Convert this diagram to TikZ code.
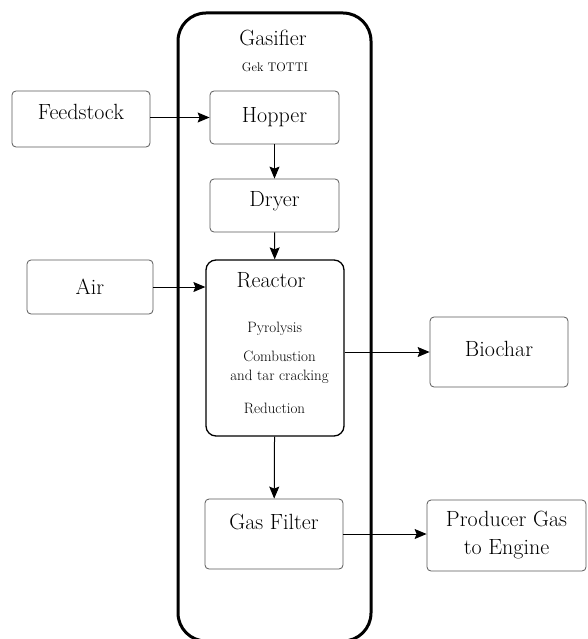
\documentclass[tikz,border=0pt]{standalone}
\usepackage{tikz}
\usetikzlibrary{arrows.meta}

\begin{document}
\begin{tikzpicture}[->,>={Stealth[length=12pt,width=10pt,inset=2pt]}
  ,x=1pt,y=-1pt
  ,line width=1pt
  ,lift/.style={text height=15.3pt,text depth=#1}]
  \tikzstyle{block}=[draw=black!65,line width=0.8pt,rounded corners=4pt
  ,font=\fontsize{22}{28}\selectfont,align=center]
  \tikzstyle{step text}=[font=\fontsize{15}{19}\selectfont,align=center]

  \useasboundingbox (0,0) rectangle (587,639);

  % the gasifier round the inner steps
  \node[draw,line width=3pt,rounded corners=28pt
  ,minimum width=193pt,minimum height=628pt](gasifier) at (274.5,327) {};
  \node[anchor=base,font=\fontsize{22}{26}\selectfont](gtitle) at (273,46) {Gasifier};
  \node[anchor=base,font=\fontsize{12.5}{14}\selectfont](gek) at (275,71.7) {Gek TOTTI};

  % inputs on the left
  \node[block,lift=14pt,minimum width=138pt,minimum height=56pt](feed) at (81,119) {Feedstock};
  \node[block,lift=0pt,minimum width=126pt,minimum height=54pt](air) at (90,287) {Air};

  % steps in the gasifier
  \node[block,lift=6pt,minimum width=129pt,minimum height=53pt](hopper) at (274.5,117.5) {Hopper};
  \node[block,lift=14pt,minimum width=129pt,minimum height=53pt](dryer) at (274.5,205.5) {Dryer};
  \node[draw,line width=1.3pt,rounded corners=10pt
  ,minimum width=138pt,minimum height=176pt](reactor) at (275,348) {};
  \node[anchor=base,font=\fontsize{22}{26}\selectfont](rtitle) at (271,287) {Reactor};
  \node[step text,anchor=base](pyro) at (274.7,332) {Pyrolysis};
  \node[step text](comb) at (279.5,367.5) {Combustion\\and tar cracking};
  \node[step text,anchor=base](red) at (274.5,413) {Reduction};
  \node[block,lift=24pt,minimum width=138pt,minimum height=70pt](filter) at (274,534) {Gas Filter};

  % outputs on the right
  \node[block,lift=7pt,minimum width=138pt,minimum height=70pt](biochar) at (499,352) {Biochar};
  \node[block,minimum width=159pt,minimum height=71pt](producer) at (506.5,535.5) {Producer Gas\\to Engine};

  \path
  (hopper.west -| feed.east) edge (hopper.west)
  (hopper) edge (dryer)
  (dryer) edge (reactor)
  (air.east) edge (air.east -| reactor.west)
  (reactor.east |- biochar.west) edge (biochar.west)
  (reactor) edge (filter)
  (filter.east) edge (filter.east -| producer.west);

\end{tikzpicture}
\end{document}
